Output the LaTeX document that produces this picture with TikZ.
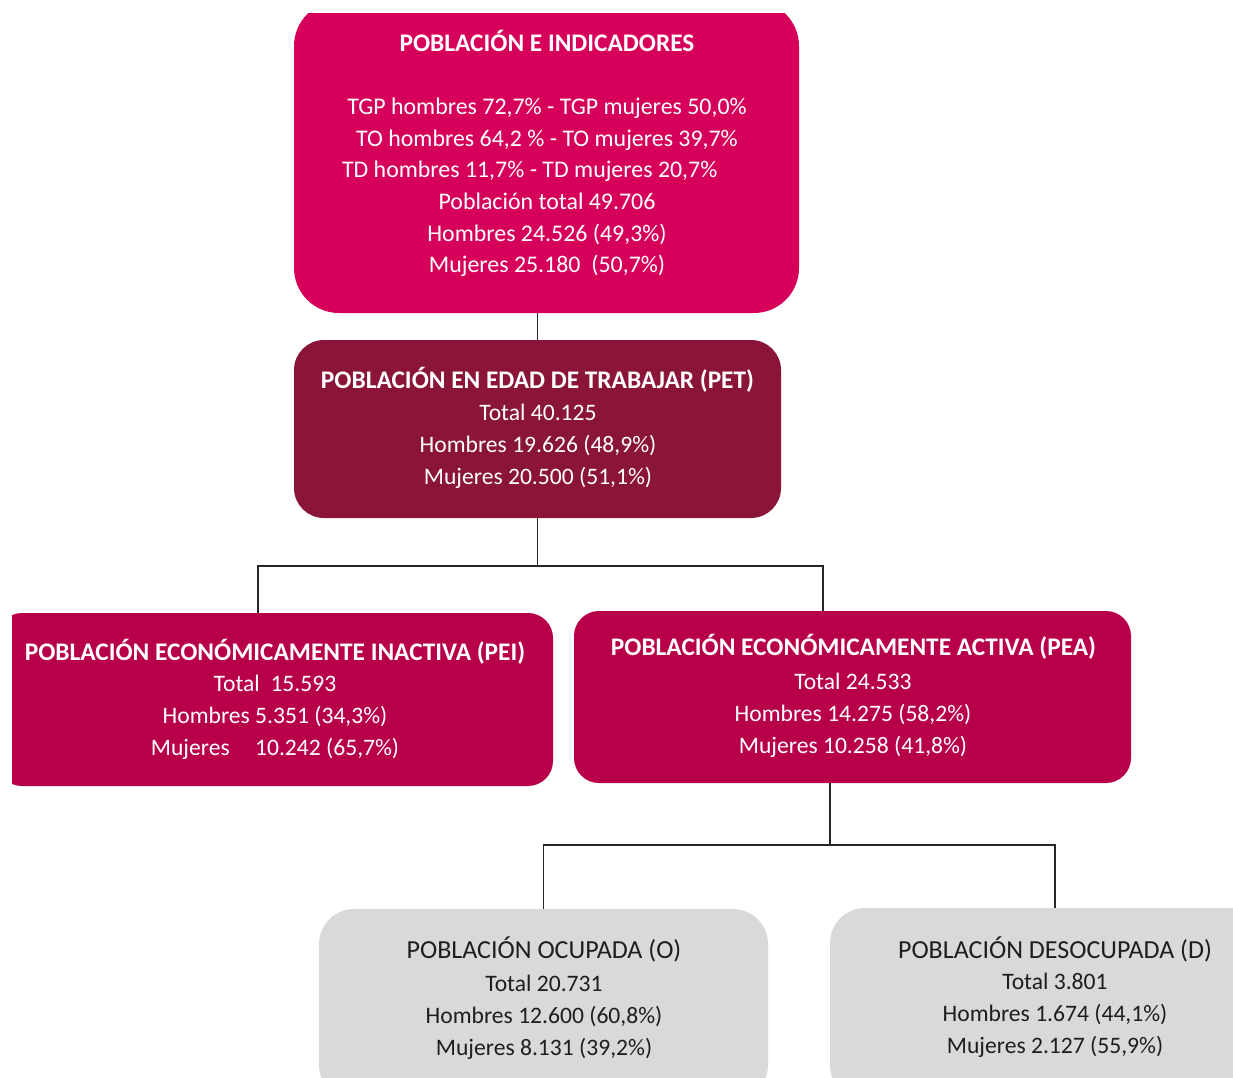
\documentclass[tikz,border=0pt]{standalone}
\usepackage{fontspec}
\setmainfont{Carlito}
\usetikzlibrary{positioning}

\definecolor{rosa}{HTML}{D6005A}
\definecolor{vino}{HTML}{8B1538}
\definecolor{grana}{HTML}{B8004A}
\definecolor{gris}{HTML}{D9D9D9}
\definecolor{tinta}{HTML}{1E1E1E}

\tikzset{
  caja/.style={inner sep=0pt, outer sep=0pt},
  titulo/.style={font=\fontsize{19}{24}\selectfont\bfseries, text=white},
  cuerpo/.style={font=\fontsize{17.7}{24}\selectfont, text=white, align=center},
  tituloG/.style={font=\fontsize{19.5}{24}\selectfont, text=tinta},
  cuerpoG/.style={font=\fontsize{17.7}{24}\selectfont, text=tinta, align=center},
  enlace/.style={line width=1.4pt, black!85},
}

\begin{document}
\begin{tikzpicture}[x=0.75pt, y=-0.75pt]
  \useasboundingbox (0,0) rectangle (1233,1078);
  \clip (12,13) rectangle (1233,1078);

  % cajas
  \node[caja, fill=rosa, rounded corners=33.75pt,
        minimum width=378.75pt, minimum height=234pt] (indic) at (546.5,157) {};
  \node[caja, fill=vino, rounded corners=22.5pt,
        minimum width=365.25pt, minimum height=133.5pt] (pet) at (537.5,429) {};
  \node[caja, fill=grana, rounded corners=18.75pt,
        minimum width=417pt, minimum height=129.75pt] (pei) at (275,699.5) {};
  \node[caja, fill=grana, rounded corners=18.75pt,
        minimum width=417.75pt, minimum height=129pt] (pea) at (852.5,697) {};
  \node[caja, fill=gris, rounded corners=26.25pt,
        minimum width=336.75pt, minimum height=143.25pt] (ocu) at (543.5,1004.5) {};
  \node[caja, fill=gris, rounded corners=26.25pt,
        minimum width=337.5pt, minimum height=144pt] (deso) at (1055,1004) {};

  % textos
  \node[titulo] (indicT) at (547,41) {POBLACIÓN E INDICADORES};
  \node[cuerpo, font=\fontsize{17.9}{23.7}\selectfont] (indicC) at (547,187.5)
    {TGP hombres 72,7\% - TGP mujeres 50,0\%\\
    TO hombres 64,2 \% - TO mujeres 39,7\%\\
    TD hombres 11,7\% - TD mujeres 20,7\%\makebox[26pt]{}\\
    Población total 49.706\\
    Hombres 24.526 (49,3\%)\\
    Mujeres 25.180\ \ (50,7\%)};

  \node[titulo] (petT) at (537.5,380) {POBLACIÓN EN EDAD DE TRABAJAR (PET)};
  \node[cuerpo] (petC) at (538,446) {Total 40.125\\
    Hombres 19.626 (48,9\%)\\
    Mujeres 20.500 (51,1\%)};

  \node[titulo] (peiT) at (275,652) {POBLACIÓN ECONÓMICAMENTE INACTIVA (PEI)};
  \node[cuerpo] (peiC) at (275,717) {Total\ \ 15.593\\
    Hombres 5.351 (34,3\%)\\
    Mujeres\hspace{15pt} 10.242 (65,7\%)};

  \node[titulo] (peaT) at (853.5,647) {POBLACIÓN ECONÓMICAMENTE ACTIVA (PEA)};
  \node[cuerpo] (peaC) at (853,715) {Total 24.533\\
    Hombres 14.275 (58,2\%)\\
    Mujeres 10.258 (41,8\%)};

  \node[tituloG] (ocuT) at (544,949) {POBLACIÓN OCUPADA (O)};
  \node[cuerpoG] (ocuC) at (544,1017) {Total 20.731\\
    Hombres 12.600 (60,8\%)\\
    Mujeres 8.131 (39,2\%)};

  \node[tituloG] (desoT) at (1055,949) {POBLACIÓN DESOCUPADA (D)};
  \node[cuerpoG] (desoC) at (1055,1015.5) {Total 3.801\\
    Hombres 1.674 (44,1\%)\\
    Mujeres 2.127 (55,9\%)};

  % enlaces
  \draw[enlace] (pet.north) -- (pet.north |- indic.south);
  \draw[enlace] (pet.south) -- ++(0,48) coordinate (bifA);
  \draw[enlace] ([xshift=-12.75pt]pei.north) |- (bifA) -| ([xshift=-22.125pt]pea.north);
  \draw[enlace] ([xshift=-16.875pt]pea.south) -- ++(0,62) coordinate (bifB);
  \draw[enlace] (ocu.north) |- (bifB) -| (deso.north);
\end{tikzpicture}
\end{document}
